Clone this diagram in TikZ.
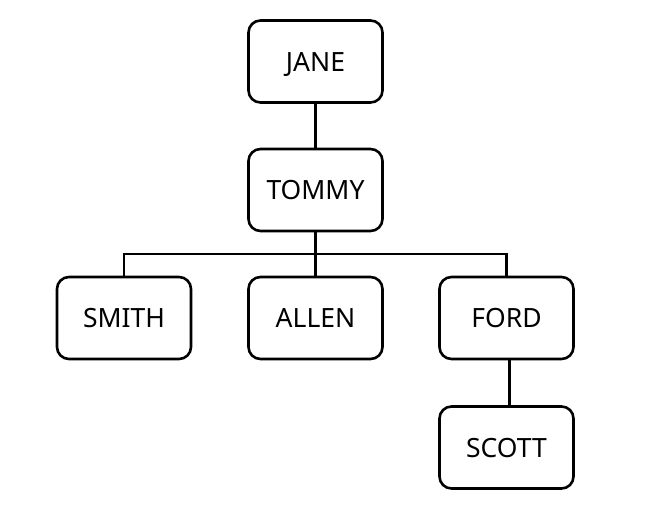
\documentclass[tikz,border=0pt]{standalone}
\usepackage{fontspec}
\setmainfont{Noto Sans}
\begin{document}
\begin{tikzpicture}[x=1pt,y=-1pt,
  person/.style={draw,line width=2.6pt,rounded corners=12pt,minimum width=134pt,minimum height=82pt,inner sep=0pt,text depth=0pt,font=\fontsize{26.5}{30}\selectfont},
  link/.style={line width=2.6pt}]
\useasboundingbox (0,0) rectangle (666,525);
\node[person] (jane) at (315.5,61.5) {JANE};
\node[person] (tommy) at (315.5,190) {TOMMY};
\node[person] (smith) at (124,318) {SMITH};
\node[person] (allen) at (315.5,318) {ALLEN};
\node[person] (ford) at (506.5,318) {FORD};
\node[person] (scott) at (506.5,447.5) {SCOTT};
\coordinate (bar) at (0,254);
\draw[link] (jane.south) -- (tommy.north);
\draw[link] (tommy.south) -- (allen.north);
\draw[link] (smith.north) |- (bar -| tommy.south) -| (ford.north);
\draw[link] ([xshift=3pt]ford.south) -- ([xshift=3pt]scott.north);
\end{tikzpicture}
\end{document}
